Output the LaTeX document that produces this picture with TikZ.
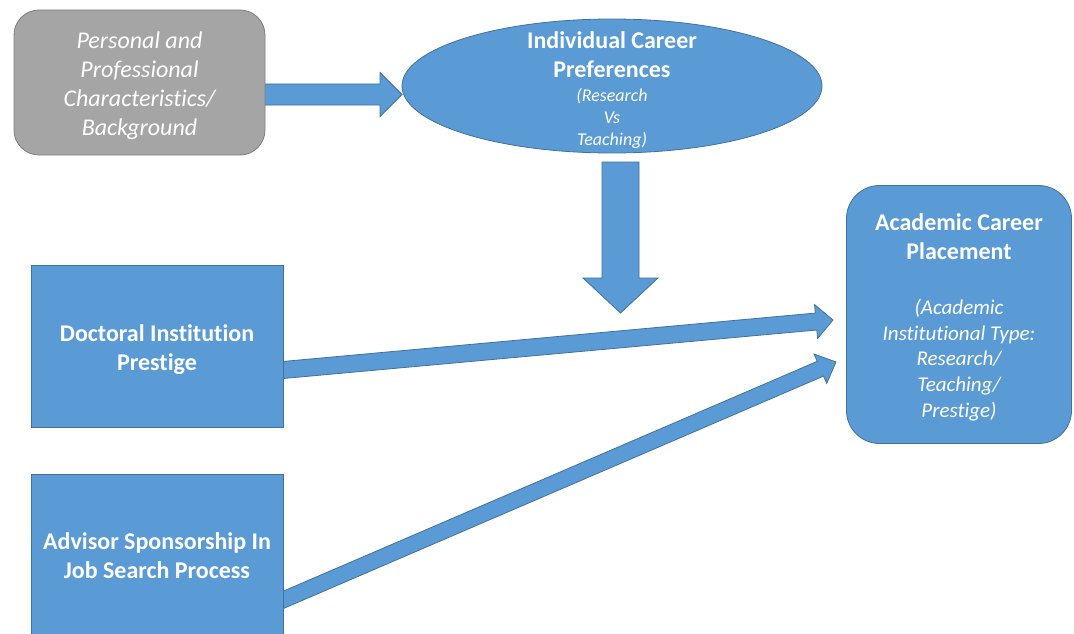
\documentclass[tikz,border=0pt]{standalone}
\usepackage{fontspec}
\setmainfont{Carlito}[Ligatures=NoCommon]
\usetikzlibrary{shapes.geometric,calc}
\definecolor{bfill}{HTML}{5B9BD5}
\definecolor{bline}{HTML}{41719C}
\definecolor{gfill}{HTML}{A5A5A5}
\definecolor{gline}{HTML}{7F7F7F}
% block arrow: start, tip, shaft half width, head half width, head length (pt)
\newcommand{\blockarr}[5]{%
  \coordinate (hb) at ($(#2)!#5pt!(#1)$);
  \filldraw[blockarrow]
    ($(#1)!#3pt!90:(#2)$) -- ($(hb)!#3pt!-90:(#1)$) -- ($(hb)!#4pt!-90:(#1)$) --
    (#2) -- ($(hb)!#4pt!90:(#1)$) -- ($(hb)!#3pt!90:(#1)$) --
    ($(#1)!#3pt!-90:(#2)$) -- cycle;}
\begin{document}
\begin{tikzpicture}[x=1pt,y=-1pt,
  blockarrow/.style={fill=bfill,draw=bline,line width=0.8pt,line join=miter},
  bluebox/.style={fill=bfill,draw=bline,line width=0.8pt,inner sep=0pt},
  graybox/.style={fill=gfill,draw=gline,line width=0.8pt,inner sep=0pt},
  boldtxt/.style={text=white,font=\fontsize{24}{29}\selectfont\bfseries,align=center,inner sep=0pt},
  italtxt/.style={text=white,font=\fontsize{24}{29}\selectfont\itshape,align=center,inner sep=0pt},
  smallital/.style={text=white,font=\fontsize{18}{22}\selectfont\itshape,align=center,inner sep=0pt},
  midital/.style={text=white,font=\fontsize{21}{25.6}\selectfont\itshape,align=center,inner sep=0pt}]
\clip (0,0) rectangle (1074,634);
\fill[white] (0,0) rectangle (1074,634);
% arrows behind boxes
\coordinate (r1s) at (255,94.5);
\coordinate (r1e) at (402,94.5);
\blockarr{r1s}{r1e}{10.5}{22}{22}
\coordinate (d1s) at (620.5,162);
\coordinate (d1e) at (620.5,313);
\blockarr{d1s}{d1e}{18.5}{37.5}{35}
\coordinate (a1s) at (260,372.1);
\coordinate (a1e) at (833,320);
\blockarr{a1s}{a1e}{8.5}{17}{17}
\coordinate (a2s) at (260,609.9);
\coordinate (a2e) at (836,362);
\blockarr{a2s}{a2e}{8}{16}{17}
% boxes
\node[graybox,rounded corners=25pt,minimum width=251pt,minimum height=145pt] (pers) at (139.5,82.5) {};
\node[italtxt] (perst) at (139.5,86) {Personal and\\Professional\\Characteristics/\\Background};
\node[bluebox,ellipse,minimum width=420pt,minimum height=134pt] (icp) at (612,86) {};
\node[boldtxt] (icpt) at (612,55) {Individual Career\\Preferences};
\node[smallital] (icps) at (612,118) {(Research\\Vs\\Teaching)};
\node[bluebox,rounded corners=33pt,minimum width=225pt,minimum height=258pt] (acp) at (959,314.5) {};
\node[boldtxt] (acpt) at (959,237) {Academic Career\\Placement};
\node[midital] (acps) at (959,360) {(Academic\\Institutional Type:\\Research/\\Teaching/\\Prestige)};
\node[bluebox,minimum width=252pt,minimum height=162pt] (doc) at (157,346) {};
\node[boldtxt] (doct) at (157,350) {Doctoral Institution\\Prestige};
\node[bluebox,minimum width=252pt,minimum height=176pt] (adv) at (157,562) {};
\node[boldtxt] (advt) at (157,556) {Advisor Sponsorship In\\Job Search Process};
\end{tikzpicture}
\end{document}
